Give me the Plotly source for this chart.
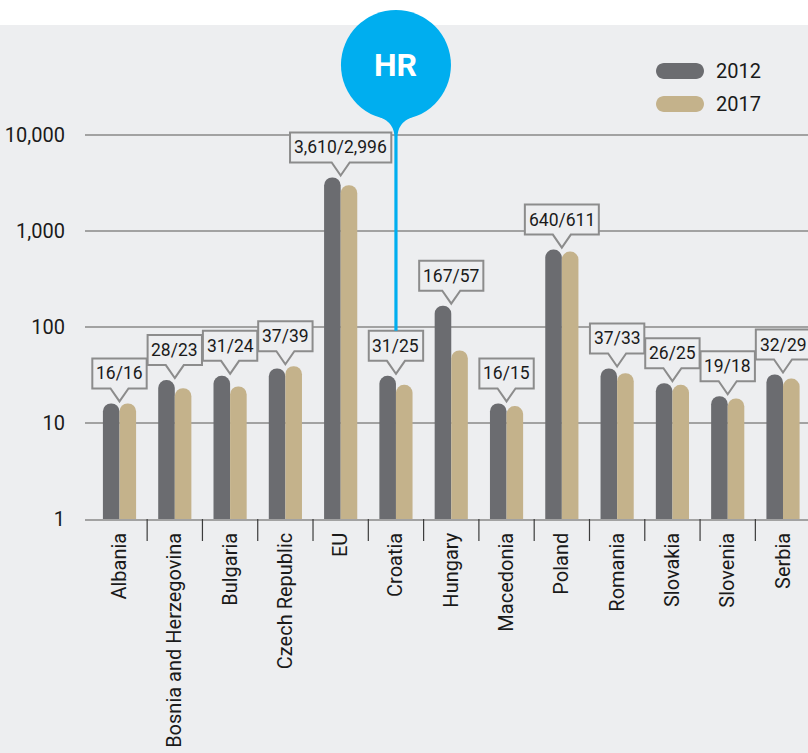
"""
Log-scale grouped bar chart comparing 2012 and 2017 values per country,
with speech-bubble value callouts and a highlight marker for Croatia.
"""
import numpy as np
import plotly.graph_objects as go

categories = ["Albania", "Bosnia and Herzegovina", "Bulgaria", "Czech Republic",
              "EU", "Croatia", "Hungary", "Macedonia", "Poland", "Romania",
              "Slovakia", "Slovenia", "Serbia"]
values_2012 = [16, 28, 31, 37, 3610, 31, 167, 16, 640, 37, 26, 19, 32]
values_2017 = [16, 23, 24, 39, 2996, 25, 57, 15, 611, 33, 25, 18, 29]
series_names = ["2012", "2017"]
y_tick_vals = [1, 10, 100, 1000, 10000]
y_tick_text = ["1", "10", "100", "1,000", "10,000"]
highlight = "Croatia"
highlight_label = "HR"

DARK = "#6b6c70"
TAN = "#c4b28b"
BG = "#edeef0"
GRID = "#a2a2a2"
BORDER = "#8c8c8c"
BLUE = "#00aeef"
TEXT = "#1a1a1a"
FONT = "Roboto"

W, H = 808, 753
M_L, M_R, M_T, M_B = 85, 0, 25, 234
plot_w = W - M_L - M_R
plot_h = H - M_T - M_B
x_range = [-0.624, 12.452]
y_top = 5.146
decade_px = plot_h / y_top

# callout geometry (pixels)
TIP, TRI_H, TRI_HW, BOX_H = 2, 13, 9, 30
LABEL_SIZE = 17.5


def text_width(s, size=LABEL_SIZE):
    w = 0
    for ch in s:
        w += 0.56 if ch.isdigit() else 0.22 if ch == "," else 0.41
    return w * size


def bubble_path(w):
    b = TIP + TRI_H
    t = b + BOX_H
    hw = w / 2
    return (f"M0,{TIP} L{TRI_HW},{b} L{hw},{b} L{hw},{t} L{-hw},{t} "
            f"L{-hw},{b} L{-TRI_HW},{b} Z")


def pill_path(w, h):
    r = h / 2
    k = 0.5523 * r
    a = w / 2 - r
    return (f"M{-a},{r} L{a},{r} C{a + k},{r} {a + r},{k} {a + r},0 "
            f"C{a + r},{-k} {a + k},{-r} {a},{-r} L{-a},{-r} "
            f"C{-a - k},{-r} {-a - r},{-k} {-a - r},0 "
            f"C{-a - r},{k} {-a - k},{r} {-a},{r} Z")


def px_to_paper(px, py):
    return (px - M_L) / plot_w, (H - M_B - py) / plot_h


xs = list(range(len(categories)))
fig = go.Figure()
for name, vals, color in zip(series_names, [values_2012, values_2017], [DARK, TAN]):
    fig.add_trace(go.Bar(
        x=xs, y=vals, name=name,
        marker=dict(color=color, cornerradius="50%", line_width=0),
        hoverinfo="skip",
    ))

shapes = [dict(type="rect", xref="paper", yref="paper", x0=-0.3, x1=1.2,
               y0=-1, y1=1, fillcolor=BG, line_width=0, layer="below")]
annotations = []

# category separators
for i in xs[:-1]:
    shapes.append(dict(type="line", xref="x", yref="paper", x0=i + 0.5, x1=i + 0.5,
                       y0=0, y1=-22 / plot_h, line=dict(color="#3c3c3c", width=1.2)))

# value callouts
for i, (a, b) in enumerate(zip(values_2012, values_2017)):
    label = f"{a:,}/{b:,}"
    top = max(a, b)
    shapes.append(dict(type="path", xref="x", yref="y", xsizemode="pixel",
                       ysizemode="pixel", xanchor=i, yanchor=top,
                       path=bubble_path(text_width(label) + 8),
                       fillcolor=BG, line=dict(color=BORDER, width=2)))
    annotations.append(dict(x=i, y=np.log10(top), xref="x", yref="y",
                            yshift=TIP + TRI_H + BOX_H / 2, showarrow=False,
                            text=label,
                            font=dict(size=LABEL_SIZE, color=TEXT, family=FONT)))

# highlight marker
hi = categories.index(highlight)
hi_top = max(values_2012[hi], values_2017[hi])
stem_bottom = -(plot_h - (np.log10(hi_top) * decade_px + TIP + TRI_H + BOX_H))
shapes.append(dict(type="circle", xref="x", yref="paper", xsizemode="pixel",
                   ysizemode="pixel", xanchor=hi, yanchor=1, x0=-55, x1=55,
                   y0=-95, y1=15, fillcolor=BLUE, line_width=0))
shapes.append(dict(type="path", xref="x", yref="paper", xsizemode="pixel",
                   ysizemode="pixel", xanchor=hi, yanchor=1,
                   path=(f"M-16,-92 Q-1.6,-98 -1.6,-112 L-1.6,{stem_bottom} "
                         f"L1.6,{stem_bottom} L1.6,-112 Q1.6,-98 16,-92 Z"),
                   fillcolor=BLUE, line_width=0))
annotations.append(dict(x=hi, y=1, xref="x", yref="paper", yshift=-40,
                        yanchor="middle", showarrow=False,
                        text=f"<b>{highlight_label}</b>",
                        font=dict(size=32, color="white", family=FONT)))

# custom legend
for k, (name, color) in enumerate(zip(series_names, [DARK, TAN])):
    py = 71 + k * 33
    lx, ly = px_to_paper(680, py)
    tx, _ = px_to_paper(714, py)
    shapes.append(dict(type="path", xref="paper", yref="paper", xsizemode="pixel",
                       ysizemode="pixel", xanchor=lx, yanchor=ly,
                       path=pill_path(48, 16), fillcolor=color, line_width=0))
    annotations.append(dict(x=tx, y=ly, xref="paper", yref="paper", xanchor="left",
                            yanchor="middle", showarrow=False, text=name,
                            font=dict(size=20, color=TEXT, family=FONT)))

fig.update_layout(
    width=W, height=H,
    margin=dict(l=M_L, r=M_R, t=M_T, b=M_B, pad=0),
    paper_bgcolor="white", plot_bgcolor=BG,
    font=dict(family=FONT, color=TEXT),
    barmode="group", bargap=0.4, bargroupgap=0,
    showlegend=False,
    shapes=shapes, annotations=annotations,
)
fig.update_xaxes(
    range=x_range, tickvals=xs, ticktext=categories, tickangle=-90,
    showgrid=False, zeroline=False, showline=True, linecolor=GRID, linewidth=1.5,
    ticks="outside", ticklen=4, tickcolor="rgba(0,0,0,0)",
    tickfont=dict(size=20, color=TEXT, family=FONT), automargin=False,
)
fig.update_yaxes(
    type="log", range=[0, y_top], tickvals=y_tick_vals, ticktext=y_tick_text,
    showgrid=True, gridcolor=GRID, gridwidth=1.5, zeroline=False, showline=False,
    ticks="outside", ticklen=15, tickcolor="rgba(0,0,0,0)",
    tickfont=dict(size=20, color=TEXT, family=FONT), automargin=False,
)

fig.write_html("out.html", config={"displayModeBar": False},
               post_script="document.body.style.margin='0';")
